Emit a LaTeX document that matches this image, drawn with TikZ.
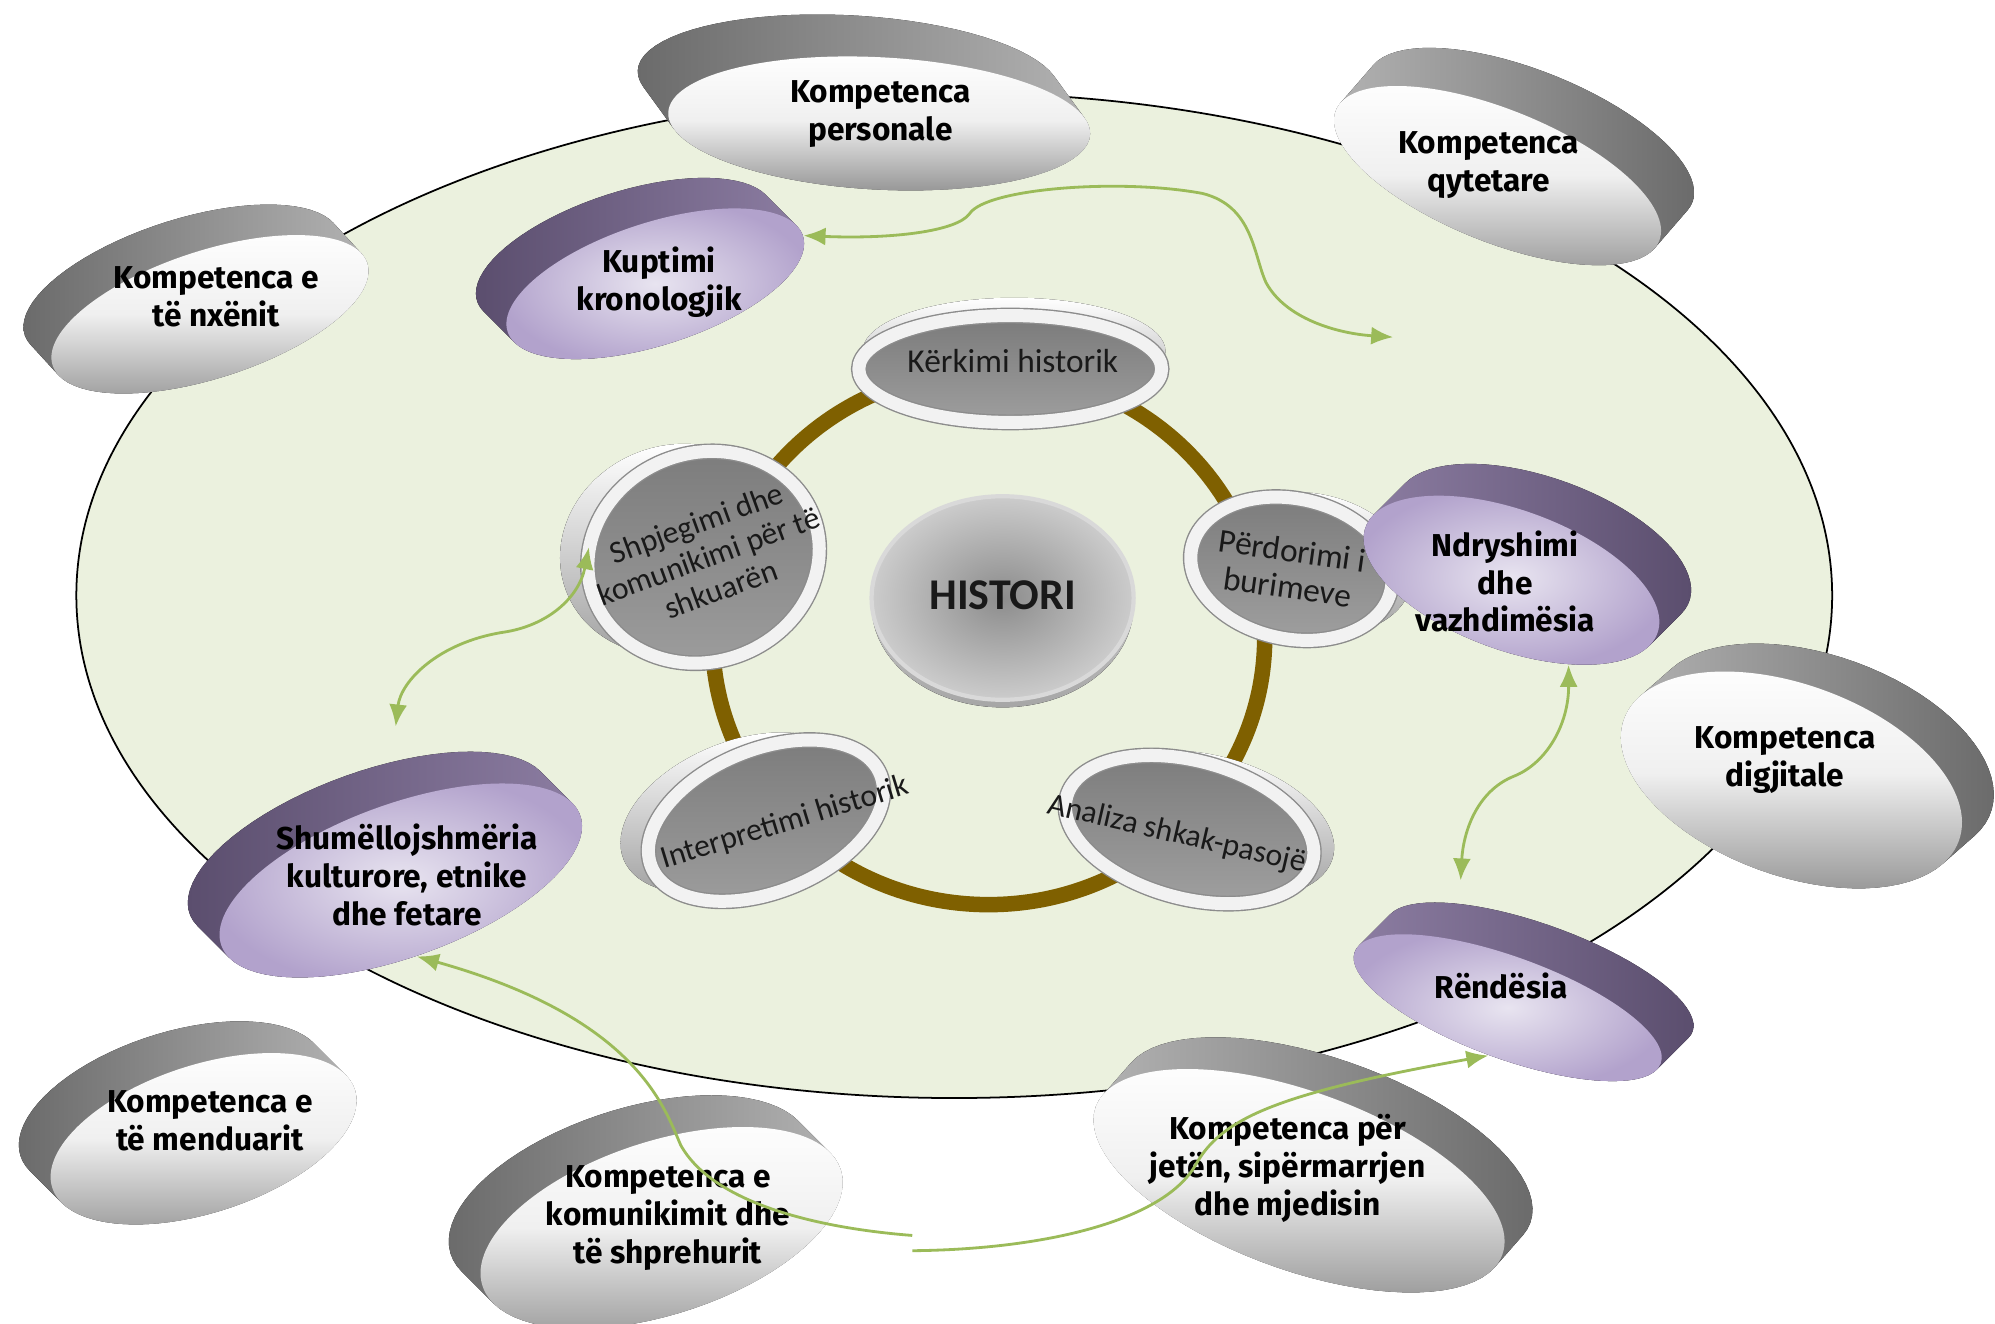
\documentclass[tikz,border=0pt]{standalone}
\usepackage{fontspec}
\setmainfont{Carlito}
\newfontfamily\kfont{Fira Sans}
\usetikzlibrary{shapes.geometric,calc,arrows.meta}

\definecolor{bggreen}{HTML}{EBF1DE}
\definecolor{ringbrown}{HTML}{7F6000}
\definecolor{linkgreen}{HTML}{9BBB59}
\definecolor{purpdark}{HTML}{5B4E6E}
\definecolor{purpmid}{HTML}{8C7DA2}
\definecolor{purplight}{HTML}{E8E4F0}
\definecolor{purpedge}{HTML}{B2A2CC}

\newcommand{\px}{0.12723mm}
% name, kind, x, y, x radius, y radius, tilt, back dx, back dy
\newcommand{\disc}[9]{%
  \pgfmathsetmacro\du{(#8)*cos(#7)-(#9)*sin(#7)}%
  \pgfmathsetmacro\dv{-(#8)*sin(#7)-(#9)*cos(#7)}%
  \pgfmathsetmacro\ta{atan2(-(#6)*\du,(#5)*\dv)}%
  \pgfmathsetmacro\sg{-(#5)*sin(\ta)*\du+(#6)*cos(\ta)*\dv}%
  \pgfmathsetmacro\ta{\sg<0 ? \ta+180 : \ta}%
  \pgfmathsetmacro\tb{\ta+180}%
  \pgfmathsetmacro\tc{\ta+360}%
  \fill[#2 side] plot[domain=\ta:\tb, samples=40, variable=\t]
      ({#3+(#8)+(#5)*cos(\t)*cos(#7)-(#6)*sin(\t)*sin(#7)}, {#4+(#9)-(#5)*cos(\t)*sin(#7)-(#6)*sin(\t)*cos(#7)})
    -- plot[domain=\tb:\tc, samples=40, variable=\t]
      ({#3+(#5)*cos(\t)*cos(#7)-(#6)*sin(\t)*sin(#7)}, {#4-(#5)*cos(\t)*sin(#7)-(#6)*sin(\t)*cos(#7)})
    -- cycle;
  \node[#2 face, ellipse, inner sep=0pt, minimum width={2*#5*\px}, minimum height={2*#6*\px}, rotate=#7] (#1) at (#3,#4) {};
}

\tikzset{
  gray face/.style={top color=white, bottom color=black!40, middle color=black!6},
  grayL side/.style={left color=black!58, right color=black!30},
  grayR side/.style={left color=black!30, right color=black!58},
  grayL face/.style={gray face},
  grayR face/.style={gray face},
  purp face/.style={inner color=purplight, outer color=purpedge},
  purpL side/.style={left color=purpdark, right color=purpmid},
  purpR side/.style={left color=purpmid, right color=purpdark},
  purpL face/.style={purp face},
  purpR face/.style={purp face},
  silver side/.style={top color=white, bottom color=black!38},
  silver face/.style={top color=black!52, bottom color=black!38, draw=black!45, double=black!5, double distance=1.3mm, line width=0.4pt},
  hist side/.style={top color=black!10, bottom color=black!35},
  hist face/.style={inner color=black!45, outer color=black!20, draw=white!85!black, line width=1.2pt},
  outer lbl/.style={font=\kfont\bfseries\fontsize{9}{10.8}\selectfont, align=center},
  inner lbl/.style={font=\fontsize{9.5}{10.5}\selectfont, align=center, text=black!90},
  link/.style={linkgreen, line width=0.8pt, >={Latex[length=2.2mm, width=1.8mm]}}
}

\begin{document}
\begin{tikzpicture}[x=0.12723mm, y=-0.12723mm]
  \useasboundingbox (0,0) rectangle (1568,1040);

  \filldraw[fill=bggreen, draw=black, line width=0.5pt] (750,468) ellipse [x radius=690, y radius=395];
  \draw[ringbrown, line width=1.55mm] (777,501) ellipse [x radius=217, y radius=210];

  \disc{kerk}{silver}{794}{290}{119}{42}{0}{3}{-14}
  \disc{shpj}{silver}{553}{438}{92}{82}{20}{-22}{-6}
  \disc{hist}{hist}{788}{470}{103}{80}{0}{0}{6}
  \disc{perd}{silver}{1015}{447}{80}{55}{-12}{16}{-4}
  \disc{interp}{silver}{602}{645}{97}{56}{22}{-22}{-6}
  \disc{anal}{silver}{935}{652}{100}{54}{-15}{16}{-4}

  \disc{kpers}{grayL}{691}{97}{166}{52}{-3}{-24}{-33}
  \disc{kqyt}{grayR}{1177}{138}{137}{52}{-22}{26}{-30}
  \disc{knx}{grayL}{165}{247}{130}{50}{18}{-22}{-24}
  \disc{kupt}{purpL}{515}{223}{122}{48}{18}{-24}{-24}
  \disc{ndr}{purpR}{1188}{456}{122}{55}{-20}{25}{-25}
  \disc{kdig}{grayR}{1408}{613}{140}{75}{-20}{25}{-22}
  \disc{shum}{purpL}{315}{692}{150}{60}{20}{-25}{-25}
  \disc{kmend}{grayL}{160}{895}{125}{58}{18}{-25}{-25}
  \disc{kkom}{grayL}{520}{965}{148}{68}{18}{-25}{-25}
  \disc{kjet}{grayR}{1021}{928}{170}{70}{-20}{22}{-25}
  \disc{rend}{purpR}{1185}{792}{128}{40}{-20}{25}{-25}

  \node[outer lbl] (kpers-t) at (692,90) {Kompetenca\\personale};
  \node[outer lbl] (kqyt-t) at (1170,130) {Kompetenca\\qytetare};
  \node[outer lbl] (knx-t) at (170,233) {Kompetenca e\\të nxënit};
  \node[outer lbl] (kupt-t) at (518,222) {Kuptimi\\kronologjik};
  \node[outer lbl] (ndr-t) at (1183,457) {Ndryshimi\\dhe\\vazhdimësia};
  \node[outer lbl] (kdig-t) at (1403,597) {Kompetenca\\digjitale};
  \node[outer lbl] (shum-t) at (320,688) {Shumëllojshmëria\\kulturore, etnike\\dhe fetare};
  \node[outer lbl] (kmend-t) at (165,881) {Kompetenca e\\të menduarit};
  \node[outer lbl] (kkom-t) at (525,957) {Kompetenca e\\komunikimit dhe\\të shprehurit};
  \node[outer lbl] (kjet-t) at (1012,918) {Kompetenca për\\jetën, sipërmarrjen\\dhe mjedisin};
  \node[outer lbl] (rend-t) at (1180,775) {Rëndësia};

  \node[inner lbl] (kerk-t) at (796,284) {Kërkimi historik};
  \node[inner lbl, font=\fontsize{9}{10}\selectfont, rotate=20] (shpj-t) at (557,437) {Shpjegimi dhe\\komunikimi për të\\shkuarën};
  \node[inner lbl, font=\bfseries\fontsize{12.5}{14}\selectfont] (hist-t) at (788,468) {HISTORI};
  \node[inner lbl, rotate=-8] (perd-t) at (1014,447) {Përdorimi i\\burimeve};
  \node[inner lbl, font=\fontsize{9}{10}\selectfont, rotate=17] (interp-t) at (617,647) {Interpretimi historik};
  \node[inner lbl, font=\fontsize{9}{10}\selectfont, rotate=-13] (anal-t) at (925,656) {Analiza shkak-pasojë};

  \coordinate (qa) at (1095,265);
  \coordinate (stip) at (311,571);
  \coordinate (rtip) at (1148,692);
  \coordinate (bl) at (717,971);
  \coordinate (br) at (717,983);

  \draw[link, <->] (kupt.east) .. controls (700,188) and (752,182) .. (762,168)
    .. controls (775,148) and (880,140) .. (945,152)
    .. controls (985,162) and (985,200) .. (995,222)
    .. controls (1010,250) and (1050,262) .. (qa);
  \draw[link, <->] (shpj.155) .. controls (455,470) and (430,492) .. (395,497)
    .. controls (345,505) and (315,535) .. (stip);
  \draw[link, <->] (ndr.-36) .. controls (1233,570) and (1215,600) .. (1190,610)
    .. controls (1160,622) and (1150,655) .. (rtip);
  \draw[link, ->] (bl) .. controls (640,965) and (560,945) .. (535,900)
    .. controls (522,870) and (500,800) .. (shum.-98);
  \draw[link, ->] (br) .. controls (820,982) and (915,960) .. (940,915)
    .. controls (960,880) and (1000,860) .. (rend.-92);
\end{tikzpicture}
\end{document}
